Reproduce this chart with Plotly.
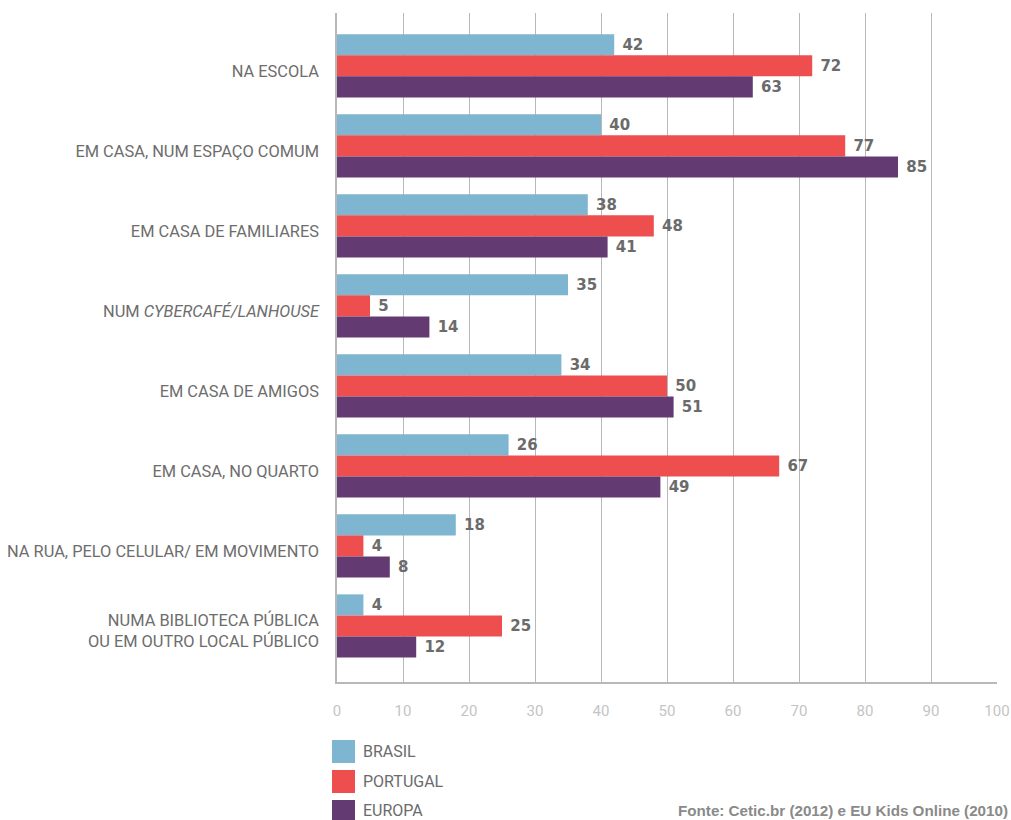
import plotly.graph_objects as go

# Data
categories = [
    "NA ESCOLA",
    "EM CASA, NUM ESPAÇO COMUM",
    "EM CASA DE FAMILIARES",
    "NUM <i>CYBERCAFÉ/LANHOUSE</i>",
    "EM CASA DE AMIGOS",
    "EM CASA, NO QUARTO",
    "NA RUA, PELO CELULAR/ EM MOVIMENTO",
    "NUMA BIBLIOTECA PÚBLICA<br>OU EM OUTRO LOCAL PÚBLICO",
]
brasil = [42, 40, 38, 35, 34, 26, 18, 4]
portugal = [72, 77, 48, 5, 50, 67, 4, 25]
europa = [63, 85, 41, 14, 51, 49, 8, 12]
series_names = ["BRASIL", "PORTUGAL", "EUROPA"]
x_ticks = list(range(0, 101, 10))
source_text = "Fonte: Cetic.br (2012) e EU Kids Online (2010)"

# Styling
colors = ["#7EB6D1", "#EF4E4E", "#643A72"]
W, H = 1011, 820
M_L, M_R, M_T, M_B = 337, 14, 13, 138
PLOT_W = W - M_L - M_R
PLOT_H = H - M_T - M_B


def px_x(px):
    return (px - M_L) / PLOT_W


def px_y(py):
    return (H - M_B - py) / PLOT_H


fig = go.Figure()
for name, values, color in zip(series_names, [brasil, portugal, europa], colors):
    fig.add_trace(go.Bar(
        name=name,
        y=categories,
        x=values,
        orientation="h",
        marker=dict(color=color, line=dict(width=0)),
        text=values,
        texttemplate=" %{x}",
        textposition="outside",
        constraintext="none",
        cliponaxis=False,
        textfont=dict(family="DejaVu Sans", size=15, color="#6b6b6b", weight="bold"),
        showlegend=False,
        hoverinfo="skip",
    ))

# Legend swatches and labels
shapes = []
annotations = []
for i, (name, color) in enumerate(zip(series_names, colors)):
    top = 740 + 30 * i
    shapes.append(dict(
        type="rect", xref="paper", yref="paper",
        x0=px_x(332), x1=px_x(355), y0=px_y(top + 23), y1=px_y(top),
        fillcolor=color, line=dict(width=0),
    ))
    annotations.append(dict(
        xref="paper", yref="paper", x=px_x(361), y=px_y(top + 11),
        text=name, showarrow=False, xanchor="left", yanchor="middle",
        font=dict(family="Roboto", size=16, color="#6b6b6b"),
    ))

annotations.append(dict(
    xref="paper", yref="paper", x=px_x(676), y=px_y(811),
    text=source_text, showarrow=False, xanchor="left", yanchor="middle",
    font=dict(family="Liberation Sans", size=15.2, color="#8a8a8a", weight="bold"),
))

fig.update_layout(
    width=W, height=H,
    margin=dict(l=M_L, r=M_R, t=M_T, b=M_B, pad=0),
    paper_bgcolor="white", plot_bgcolor="white",
    barmode="group", bargap=0.21, bargroupgap=0,
    shapes=shapes, annotations=annotations,
    xaxis=dict(
        range=[0, 100], tickvals=x_ticks, showgrid=True,
        gridcolor="#b8b8b8", gridwidth=1, zeroline=False,
        showline=True, linecolor="#b8b8b8", linewidth=1.5, mirror=False,
        ticks="", ticklabelstandoff=14, automargin=False,
        tickfont=dict(family="Roboto", size=15, color="#c4c4c4"),
        fixedrange=True,
    ),
    yaxis=dict(
        range=[7.7, -0.66], showgrid=False, zeroline=False,
        showline=True, linecolor="#b8b8b8", linewidth=1.5,
        ticks="", ticklabelstandoff=13, ticklabelshift=-5, automargin=False,
        tickfont=dict(family="Roboto", size=16.4, color="#6d6d6d"),
        fixedrange=True,
    ),
)

fig.write_html("out.html")
